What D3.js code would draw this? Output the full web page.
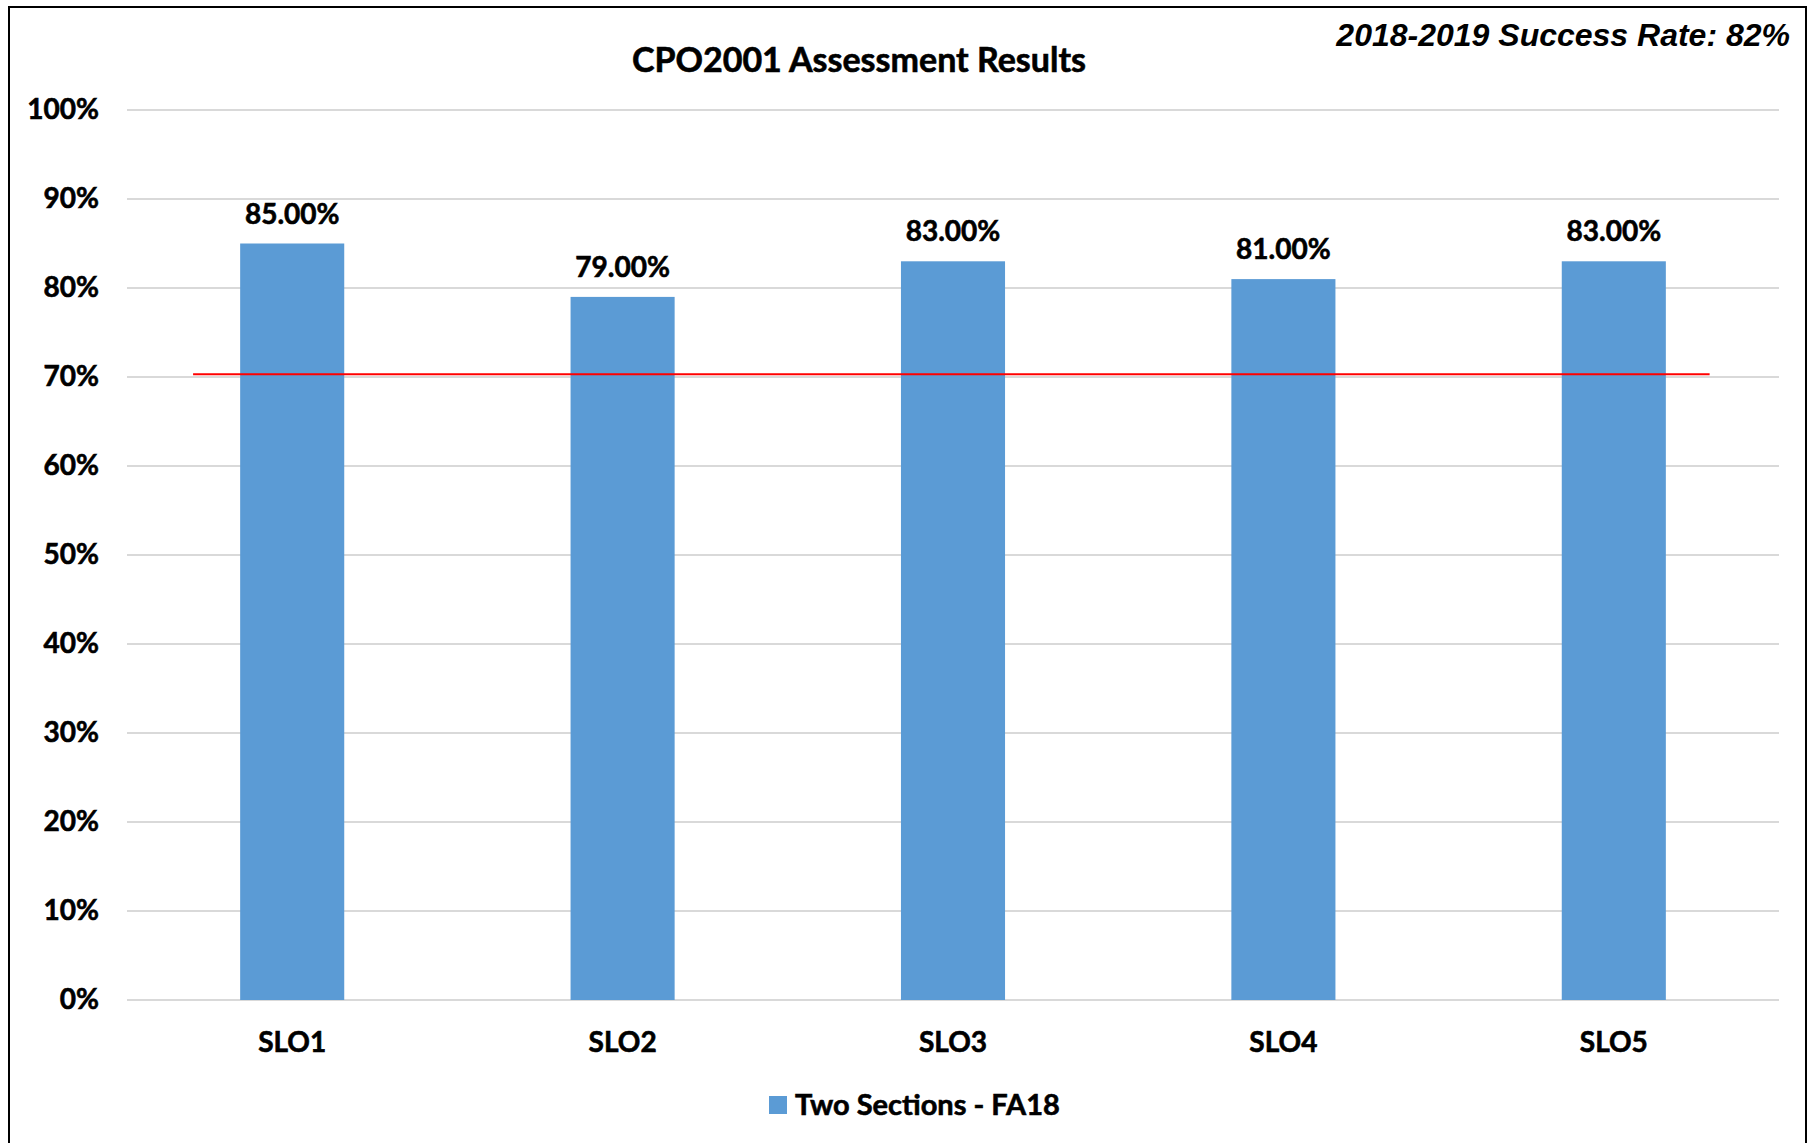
<!DOCTYPE html>
<html>
<head>
<meta charset="utf-8">
<script src="https://cdn.jsdelivr.net/npm/d3@7"></script>
<style>
  body { margin: 0; background: #fff; }
  text { font-family: Lato, "Open Sans", sans-serif; font-weight: bold; fill: #000; }
  .heavy text, text.heavy { stroke: #000; stroke-width: 0.6px; }
</style>
</head>
<body>
<div id="chart"></div>
<script>
var categories = ["SLO1", "SLO2", "SLO3", "SLO4", "SLO5"];
var values = [0.85, 0.79, 0.83, 0.81, 0.83];
var seriesName = "Two Sections - FA18";
var yTicks = [0, 0.1, 0.2, 0.3, 0.4, 0.5, 0.6, 0.7, 0.8, 0.9, 1.0];
var target = 0.703;
var title = "CPO2001 Assessment Results";
var note = "2018-2019 Success Rate: 82%";

var W = 1811, H = 1143;
var mLeft = 127, mRight = 1779, mTop = 110, mBottom = 1000;

var svg = d3.select("#chart").append("svg")
  .attr("width", W)
  .attr("height", H);

// outer frame
svg.append("rect")
  .attr("x", 9).attr("y", 7)
  .attr("width", 1797).attr("height", 1150)
  .attr("fill", "none")
  .attr("stroke", "#000")
  .attr("stroke-width", 2);

var x = d3.scaleBand().domain(categories).range([mLeft, mRight]).paddingInner(0).paddingOuter(0);
var y = d3.scaleLinear().domain([0, 1]).range([mBottom, mTop]);

// gridlines
svg.append("g").selectAll("line").data(yTicks).enter().append("line")
  .attr("x1", mLeft).attr("x2", mRight)
  .attr("y1", function(d){ return y(d); })
  .attr("y2", function(d){ return y(d); })
  .attr("stroke", "#d9d9d9")
  .attr("stroke-width", 2);

// y axis labels
var yAxis = d3.axisLeft(y).tickValues(yTicks).tickFormat(d3.format(".0%")).tickSize(0).tickPadding(0);
var ya = svg.append("g").attr("class", "heavy").attr("transform", "translate(99,0)").call(yAxis);
ya.select(".domain").remove();
ya.selectAll("text").attr("font-size", 28).attr("fill", "#000")
  .style("font-family", "Lato, sans-serif").style("font-weight", "bold");

// bars
var bw = x.bandwidth() * 0.315;
svg.append("g").selectAll("rect").data(values).enter().append("rect")
  .attr("x", function(d, i){ return x(categories[i]) + x.bandwidth()/2 - bw/2; })
  .attr("y", function(d){ return y(d); })
  .attr("width", bw)
  .attr("height", function(d){ return y(0) - y(d); })
  .attr("fill", "#5b9bd5");

// value labels
svg.append("g").attr("class", "heavy").selectAll("text").data(values).enter().append("text")
  .attr("x", function(d, i){ return x(categories[i]) + x.bandwidth()/2; })
  .attr("y", function(d){ return y(d) - 20; })
  .attr("text-anchor", "middle")
  .attr("font-size", 28)
  .text(function(d){ return d3.format(".2%")(d); });

// target line
svg.append("line")
  .attr("x1", x(categories[0]) + x.bandwidth()*0.2)
  .attr("x2", x(categories[4]) + x.bandwidth()*0.79)
  .attr("y1", y(target)).attr("y2", y(target))
  .attr("stroke", "#ff0000")
  .attr("stroke-width", 2);

// x axis labels
var xAxis = d3.axisBottom(x).tickSize(0).tickPadding(0);
var xa = svg.append("g").attr("class", "heavy").attr("transform", "translate(0,1032)").call(xAxis);
xa.select(".domain").remove();
xa.selectAll("text").attr("font-size", 28).attr("fill", "#000")
  .style("font-family", "Lato, sans-serif").style("font-weight", "bold");

// title
svg.append("text")
  .attr("class", "heavy")
  .attr("x", 859).attr("y", 72)
  .attr("text-anchor", "middle")
  .attr("font-size", 34)
  .text(title);

// note top right
svg.append("text")
  .attr("x", 1790).attr("y", 46)
  .attr("text-anchor", "end")
  .attr("font-size", 32)
  .style("font-family", "'Liberation Sans', Arial, sans-serif")
  .style("font-style", "italic")
  .text(note);

// legend
var lg = svg.append("g").attr("transform", "translate(769,1096)");
lg.append("rect").attr("width", 18).attr("height", 18).attr("fill", "#5b9bd5");
lg.append("text").attr("class", "heavy").attr("x", 26).attr("y", 19).attr("font-size", 29).text(seriesName);
</script>
</body>
</html>
